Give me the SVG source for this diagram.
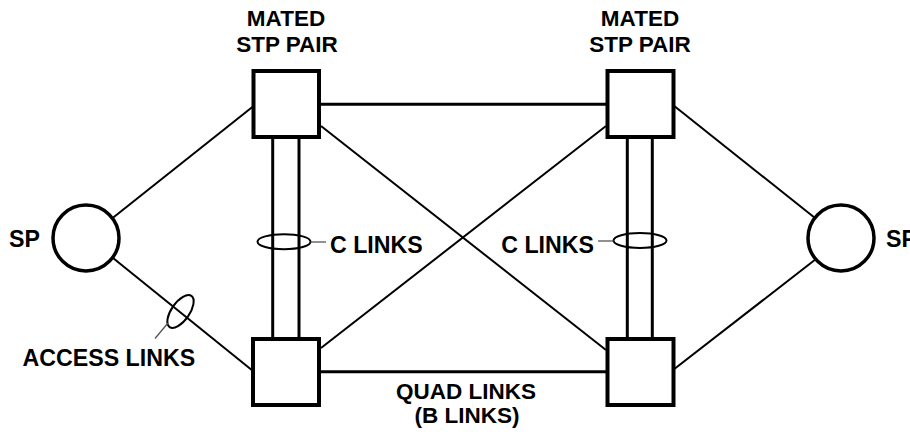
<svg xmlns="http://www.w3.org/2000/svg" width="910" height="434" viewBox="0 0 910 434">
  <style>
    .lbl { font-family: "Liberation Sans", Arial, sans-serif; font-weight: bold; font-size: 22.5px; fill: #000; }
    .big { font-size: 23.2px; }
    .mid { text-anchor: middle; }
    .stp { fill: #fff; stroke: #000; stroke-width: 4; }
    .sp { fill: #fff; stroke: #000; stroke-width: 3.5; }
    .thin { stroke: #000; stroke-width: 2; fill: none; }
    .thick { stroke: #000; stroke-width: 3; fill: none; }
    .ring { stroke: #000; stroke-width: 2; fill: none; }
    .lead { stroke: #555; stroke-width: 1.3; fill: none; }
  </style>
  <rect width="910" height="434" fill="#fff"/>

  <g id="connectors">
    <!-- quad links (B links) -->
    <line class="thick" x1="319" y1="104.3" x2="608" y2="104.3"/>
    <line class="thick" x1="319" y1="371.7" x2="608" y2="371.7"/>
    <line class="thin" x1="321" y1="126" x2="606" y2="350"/>
    <line class="thin" x1="321" y1="348" x2="606" y2="126"/>
    <!-- C links between mated STPs -->
    <line class="thick" x1="272.7" y1="137" x2="272.7" y2="339"/>
    <line class="thick" x1="299" y1="137" x2="299" y2="339"/>
    <line class="thick" x1="627.3" y1="137" x2="627.3" y2="339"/>
    <line class="thick" x1="652.3" y1="137" x2="652.3" y2="339"/>
    <!-- access links -->
    <line class="thin" x1="112" y1="218.5" x2="253" y2="106.5"/>
    <line class="thin" x1="113" y1="258" x2="253" y2="371"/>
    <line class="thin" x1="673" y1="105" x2="815" y2="218"/>
    <line class="thin" x1="673" y1="370" x2="816" y2="259"/>
  </g>

  <g id="stp-top-left"><rect class="stp" x="253.5" y="71" width="65.5" height="66"/></g>
  <g id="stp-top-right"><rect class="stp" x="607.5" y="71" width="66" height="66"/></g>
  <g id="stp-bottom-left"><rect class="stp" x="253" y="339" width="66" height="66"/></g>
  <g id="stp-bottom-right"><rect class="stp" x="607.5" y="339" width="66" height="66"/></g>

  <g id="sp-left"><circle class="sp" cx="86" cy="238" r="33"/></g>
  <g id="sp-right"><circle class="sp" cx="841" cy="238" r="33"/></g>

  <g id="link-groups">
    <ellipse class="ring" cx="284" cy="241.7" rx="26.5" ry="7.5"/>
    <line class="lead" x1="310.5" y1="242" x2="326" y2="242"/>
    <ellipse class="ring" cx="640" cy="240.5" rx="26.5" ry="7.5"/>
    <line class="lead" x1="598" y1="241" x2="613.5" y2="241"/>
    <ellipse class="ring" cx="180.5" cy="311.5" rx="19" ry="9" transform="rotate(-55 180.5 311.5)"/>
    <line class="lead" x1="168" y1="323" x2="155" y2="338.5"/>
  </g>

  <g id="labels">
    <text class="lbl mid" x="286" y="26">MATED</text>
    <text class="lbl mid" x="287" y="52">STP PAIR</text>
    <text class="lbl mid" x="640" y="26">MATED</text>
    <text class="lbl mid" x="640" y="52">STP PAIR</text>
    <text class="lbl big" x="9" y="247">SP</text>
    <text class="lbl big" x="886" y="247">SP</text>
    <text class="lbl big" x="330" y="252.7">C LINKS</text>
    <text class="lbl big" x="594" y="252.7" text-anchor="end">C LINKS</text>
    <text class="lbl big" x="22.5" y="365.7">ACCESS LINKS</text>
    <text class="lbl mid" x="466" y="399.3">QUAD LINKS</text>
    <text class="lbl mid" x="467" y="422.7">(B LINKS)</text>
  </g>
</svg>
